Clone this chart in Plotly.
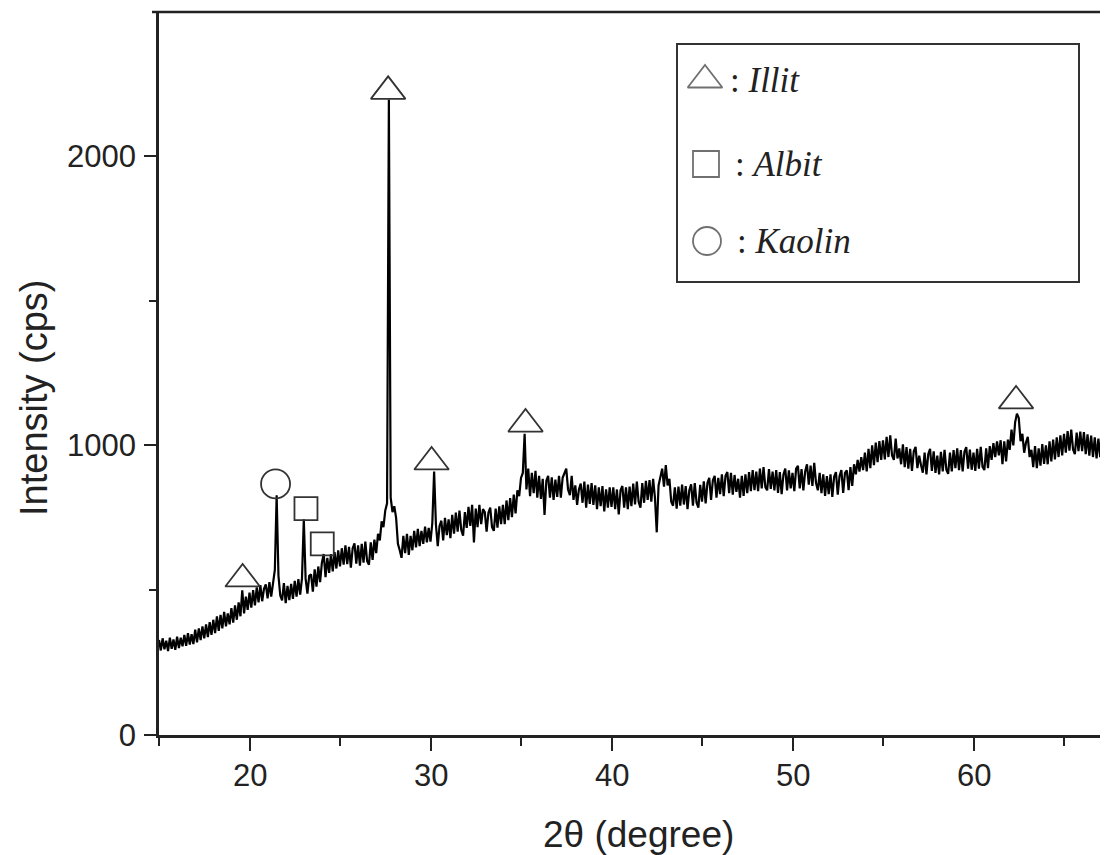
import plotly.graph_objects as go

# ---------------- data ----------------
two_theta_start = 15.0
two_theta_step = 0.1

intensity = [
    # 15.x
    328, 292, 334, 296, 326, 290, 336, 298, 330, 294,
    # 16.x
    340, 300, 336, 306, 346, 308, 352, 312, 348, 314,
    # 17.x
    364, 320, 368, 328, 375, 334, 382, 338, 390, 346,
    # 18.x
    398, 352, 410, 360, 415, 368, 425, 375, 420, 382,
    # 19.x
    438, 388, 448, 398, 458, 410, 500, 420, 478, 432,
    # 20.x
    492, 440, 500, 448, 510, 458, 518, 462, 505, 520,
    # 21.x
    472, 528, 478, 535, 570, 828, 550, 482, 465, 525,
    # 22.x
    455, 515, 466, 522, 470, 532, 478, 538, 485, 542,
    # 23.x
    745, 540, 488, 550, 555, 495, 572, 512, 582, 528,
    # 24.x
    595, 625, 545, 612, 560, 625, 565, 632, 575, 638,
    # 25.x
    582, 645, 588, 655, 590, 650, 578, 645, 662, 592,
    # 26.x
    655, 585, 660, 595, 668, 600, 588, 665, 605, 675,
    # 27.x
    628, 695, 672, 738, 718, 775, 800, 2195, 820, 770,
    # 28.x
    790, 750, 660, 638, 612, 688, 628, 695, 622, 688,
    # 29.x
    638, 705, 648, 712, 652, 705, 660, 720, 665, 715,
    # 30.x
    668, 732, 910, 726, 652, 722, 740, 672, 750, 690,
    # 31.x
    745, 680, 760, 695, 768, 702, 775, 708, 688, 770,
    # 32.x
    715, 788, 722, 795, 665, 782, 718, 795, 728, 780,
    # 33.x
    770, 702, 768, 785, 718, 705, 782, 716, 790, 728,
    # 34.x
    795, 728, 810, 742, 818, 752, 830, 765, 845, 825,
    # 35.x
    888, 905, 1040, 848, 920, 825, 905, 835, 912, 820,
    # 36.x
    895, 815, 885, 760, 878, 895, 820, 890, 812, 882,
    # 37.x
    822, 895, 820, 888, 905, 920, 848, 828, 895, 812,
    # 38.x
    862, 795, 848, 868, 802, 875, 785, 865, 798, 870,
    # 39.x
    795, 862, 780, 855, 790, 860, 772, 848, 785, 855,
    # 40.x
    788, 855, 780, 848, 762, 845, 860, 785, 855, 780,
    # 41.x
    858, 790, 868, 796, 875, 805, 785, 870, 802, 878,
    # 42.x
    812, 880, 806, 885, 820, 700, 862, 895, 920, 858,
    # 43.x
    932, 862, 885, 806, 792, 855, 782, 858, 792, 865,
    # 44.x
    796, 860, 780, 845, 866, 792, 870, 802, 785, 864,
    # 45.x
    806, 876, 800, 870, 888, 812, 880, 895, 820, 888,
    # 46.x
    832, 900, 825, 895, 908, 835, 905, 830, 898, 840,
    # 47.x
    885, 820, 895, 826, 900, 835, 908, 842, 915, 846,
    # 48.x
    910, 842, 920, 852, 925, 856, 845, 918, 850, 910,
    # 49.x
    845, 915, 836, 908, 832, 900, 920, 845, 914, 852,
    # 50.x
    905, 842, 920, 930, 852, 918, 845, 910, 935, 865,
    # 51.x
    930, 860, 940, 870, 845, 905, 835, 900, 826, 894,
    # 52.x
    832, 900, 822, 892, 908, 830, 895, 915, 836, 905,
    # 53.x
    914, 846, 925, 860, 935, 900, 950, 910, 960, 915,
    # 54.x
    975, 910, 988, 922, 1000, 932, 1010, 942, 1015, 950,
    # 55.x
    1018, 952, 1030, 960, 1035, 965, 950, 1024, 955, 990,
    # 56.x
    935, 1004, 925, 994, 920, 988, 912, 980, 995, 922,
    # 57.x
    965, 932, 906, 975, 900, 970, 988, 912, 980, 905,
    # 58.x
    965, 900, 978, 910, 985, 916, 902, 975, 910, 984,
    # 59.x
    922, 990, 915, 984, 910, 978, 994, 920, 986, 916,
    # 60.x
    975, 912, 988, 920, 995, 926, 915, 990, 922, 998,
    # 61.x
    950, 1008, 960, 1014, 966, 1018, 935, 1014, 945, 1020,
    # 62.x
    985, 1055, 1000, 1080, 1110, 1095, 1015, 1040, 975, 1010,
    # 63.x
    1030, 960, 985, 925, 998, 922, 990, 930, 1005, 936,
    # 64.x
    1000, 935, 1014, 945, 1020, 952, 1028, 960, 1035, 966,
    # 65.x
    1040, 975, 1050, 982, 1055, 986, 970, 1044, 980, 1048,
    # 66.x
    980, 1046, 970, 1038, 965, 1034, 960, 1028, 955, 1024,
    # 67.x
    960, 1025, 950, 1018, 962, 1010, 955, 1015, 970,
]
two_theta = [round(two_theta_start + two_theta_step * i, 1) for i in range(len(intensity))]

# phase markers placed over identified peaks
illit_x = [19.62, 27.66, 30.06, 35.25, 62.35]
illit_y = [539, 2223, 943, 1074, 1154]
albit_x = [23.12, 24.02]
albit_y = [782, 660]
kaolin_x = [21.44]
kaolin_y = [867]

legend_labels = ["Illit", "Albit", "Kaolin"]
legend_symbols = ["triangle-up-open", "square-open", "circle-open"]

x_ticks = [20, 30, 40, 50, 60]
x_tick_labels = ["20", "30", "40", "50", "60"]
x_minor = [15, 25, 35, 45, 55, 65]
y_ticks = [0, 1000, 2000]
y_minor = [500, 1500]

# ---------------- layout geometry (screen pixels) ----------------
BODY = 8                      # default page margin of the html body
PL, PR, PT, PB = 159, 1116, 12, 735   # plot area on screen
W, H = 1108, 855


def px(xp):
    return (xp - PL) / (PR - PL)


def py(yp):
    return (PB - yp) / (PB - PT)


AX = "#222222"
TXT = "#222222"
SANS = "Liberation Sans, Arial, sans-serif"
SERIF = "Liberation Serif, Times New Roman, serif"

fig = go.Figure()
fig.add_trace(go.Scatter(x=two_theta, y=intensity, mode="lines",
                         line=dict(color="#000000", width=2.2), hoverinfo="skip"))

mk = dict(color="#333333", line=dict(width=1.8, color="#333333"))
fig.add_trace(go.Scatter(x=illit_x, y=illit_y, mode="markers",
                         marker=dict(symbol="triangle-up-open", size=30, **mk)))
fig.add_trace(go.Scatter(x=albit_x, y=albit_y, mode="markers",
                         marker=dict(symbol="square-open", size=23, **mk)))
fig.add_trace(go.Scatter(x=kaolin_x, y=kaolin_y, mode="markers",
                         marker=dict(symbol="circle-open", size=29, **mk)))

# legend symbols on a pixel-like overlay axis
leg_px = [705, 706, 707]
leg_py = [80, 164, 241]
leg_sizes = [30, 26, 28]
fig.add_trace(go.Scatter(x=leg_px, y=leg_py, mode="markers", xaxis="x2", yaxis="y2",
                         marker=dict(symbol=legend_symbols, size=leg_sizes, **mk)))

annotations = []
leg_tx = [728, 733, 735]
for lbl, tx, ty in zip(legend_labels, leg_tx, leg_py):
    annotations.append(dict(x=tx, y=ty, xref="x2", yref="y2", xanchor="left", yanchor="middle",
                            text=": <i>%s</i>" % lbl, showarrow=False,
                            font=dict(family=SERIF, size=35, color=TXT)))

# x tick labels (placed closer to the axis than plotly's default)
for tv, tl in zip(x_ticks, x_tick_labels):
    annotations.append(dict(x=tv, y=py(775), xref="x", yref="paper", text=tl,
                            showarrow=False, xanchor="center", yanchor="middle",
                            font=dict(family=SANS, size=31, color=TXT)))

# axis titles
annotations.append(dict(x=px(638), y=py(834), xref="paper", yref="paper",
                        text="2θ (degree)", showarrow=False, xanchor="center", yanchor="middle",
                        font=dict(family=SANS, size=37, color=TXT)))
annotations.append(dict(x=px(34), y=py(398), xref="paper", yref="paper",
                        text="Intensity (cps)", showarrow=False, textangle=-90,
                        xanchor="center", yanchor="middle",
                        font=dict(family=SANS, size=38, color=TXT)))

shapes = [
    # legend box
    dict(type="rect", xref="paper", yref="paper",
         x0=px(677), x1=px(1079), y0=py(282), y1=py(44),
         line=dict(color="#333333", width=2), fillcolor="rgba(0,0,0,0)"),
    # top frame line
    dict(type="line", xref="paper", yref="paper", x0=px(152), x1=1, y0=1, y1=1,
         line=dict(color=AX, width=2.5)),
]

x_end = 15 + (PR - PL) / 18.1

fig.update_layout(
    width=W, height=H,
    margin=dict(l=PL - BODY, r=W - (PR - BODY), t=PT - BODY, b=H - (PB - BODY)),
    paper_bgcolor="white", plot_bgcolor="white",
    showlegend=False,
    annotations=annotations, shapes=shapes,
    xaxis=dict(range=[15, x_end], showline=True, linecolor=AX, linewidth=2.5,
               showgrid=False, zeroline=False, showticklabels=False,
               tickmode="array", tickvals=x_ticks, ticks="outside", ticklen=13,
               tickwidth=2, tickcolor=AX,
               minor=dict(tickmode="array", tickvals=x_minor, ticks="outside",
                          ticklen=8, tickwidth=2, tickcolor=AX)),
    yaxis=dict(range=[0, 2497], showline=True, linecolor=AX, linewidth=2.5,
               showgrid=False, zeroline=False,
               tickmode="array", tickvals=y_ticks, ticks="outside", ticklen=12,
               tickwidth=2, tickcolor=AX, ticklabelstandoff=2,
               tickfont=dict(family=SANS, size=31, color=TXT),
               minor=dict(tickmode="array", tickvals=y_minor, ticks="outside",
                          ticklen=7, tickwidth=2, tickcolor=AX)),
    xaxis2=dict(overlaying="x", range=[PL, PR], visible=False, fixedrange=True),
    yaxis2=dict(overlaying="y", range=[PB, PT], visible=False, fixedrange=True),
)

fig.write_html("out.html")
